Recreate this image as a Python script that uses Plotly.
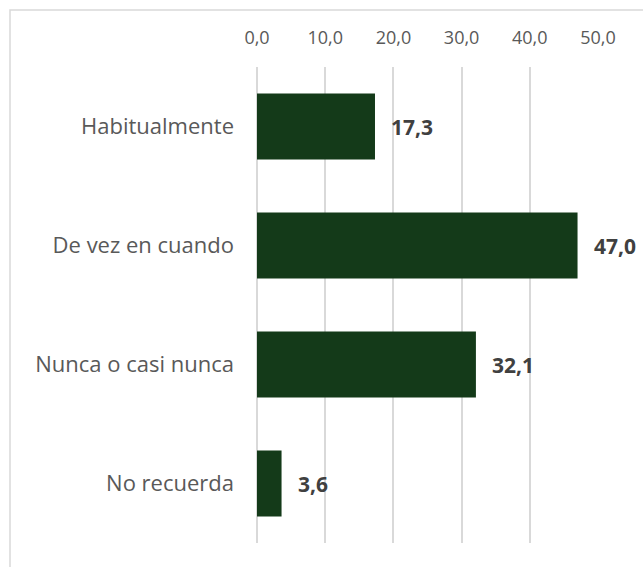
import plotly.graph_objects as go

# Survey responses (percent)
categories = ["Habitualmente", "De vez en cuando", "Nunca o casi nunca", "No recuerda"]
values = [17.3, 47.0, 32.1, 3.6]
tick_values = [0, 10, 20, 30, 40, 50]
tick_labels = ["0,0", "10,0", "20,0", "30,0", "40,0", "50,0"]

BAR_COLOR = "#143a19"
GRID_COLOR = "#d9d9d9"
FONT = "Open Sans"

W, H = 643, 567
L, R, T, B = 257, 45, 67, 24

fig = go.Figure(
    go.Bar(
        x=values,
        y=categories,
        orientation="h",
        marker=dict(color=BAR_COLOR, line=dict(width=0)),
        hoverinfo="skip",
    )
)

# Value labels to the right of each bar, comma decimal separator
for cat, v in zip(categories, values):
    fig.add_annotation(
        x=v, y=cat, xref="x", yref="y",
        text="<b>" + f"{v:.1f}".replace(".", ",") + "</b>",
        showarrow=False, xanchor="left", yanchor="middle",
        xshift=14,
        font=dict(family=FONT, size=21, color="#404040"),
    )

pw = W - L - R
ph = H - T - B
# Light outer frame of the chart area
fig.add_shape(
    type="rect", xref="paper", yref="paper",
    x0=(10 - L) / pw, x1=(W + 5 - L) / pw,
    y0=-(B + 5) / ph, y1=(H - 10 - B) / ph,
    line=dict(color=GRID_COLOR, width=1.5),
    fillcolor="rgba(0,0,0,0)", layer="below",
)

fig.update_layout(
    width=W, height=H,
    margin=dict(l=L, r=R, t=T, b=B),
    paper_bgcolor="white", plot_bgcolor="white",
    bargap=0.445,
    showlegend=False,
    font=dict(family=FONT, color="#595959"),
    xaxis=dict(
        side="top",
        range=[0, 50],
        tickvals=tick_values,
        ticktext=tick_labels,
        showgrid=True, gridcolor=GRID_COLOR, gridwidth=1.5,
        zeroline=True, zerolinecolor=GRID_COLOR, zerolinewidth=1.5,
        showline=False, ticks="",
        ticklabelstandoff=18,
        tickfont=dict(family=FONT, size=18, color="#595959"),
        fixedrange=True,
    ),
    yaxis=dict(
        categoryorder="array",
        categoryarray=categories[::-1],
        showgrid=False, zeroline=False, showline=False, ticks="",
        ticklabelstandoff=22,
        tickfont=dict(family=FONT, size=22, color="#595959"),
        fixedrange=True,
    ),
)

fig.write_html("out.html")
